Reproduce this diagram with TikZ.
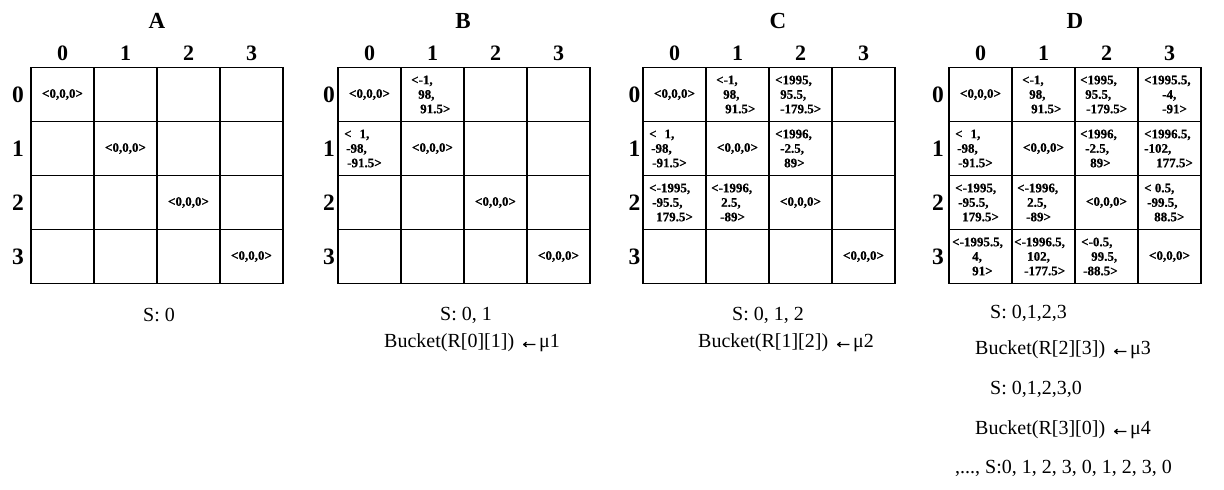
\documentclass[tikz,border=0pt]{standalone}
\usepackage{fontspec}
\setmainfont{Liberation Serif}
\newfontfamily\heavyfont{Liberation Serif Bold}[FakeBold=0.6]
\newfontfamily\arrowfont{Liberation Serif Bold}[FakeBold=2]
\tikzset{
  cellbox/.style={draw, line width=1.6pt, minimum width=63pt, minimum height=54pt, inner sep=0pt, outer sep=0pt},
  valtxt/.style={font=\heavyfont\fontsize{13}{14.5}\selectfont, inner sep=0pt, align=left},
  hdr/.style={font=\bfseries\fontsize{22}{24}\selectfont, inner sep=0pt},
  rowhdr/.style={font=\bfseries\fontsize{23.5}{25}\selectfont, inner sep=0pt},
  ttl/.style={font=\bfseries\fontsize{23}{25}\selectfont, inner sep=0pt},
  note/.style={font=\fontsize{20}{22}\selectfont, inner sep=0pt, anchor=west},
}
% assignment arrow used in the bucket lines
\newcommand\getsarrow{{\arrowfont ←}}
% 4x4 table of cells with row and column indices
% #1 name, #2 left x, #3 top y, #4 x of the row indices
\newcommand\tablegrid[4]{%
  \foreach \r in {0,...,3}{
    \foreach \c in {0,...,3}{
      \node[cellbox] (#1-\r-\c) at ({#2+63*\c+31.5},{#3+54*\r+27}) {};
    }
    \node[rowhdr] (#1-row\r) at (#4,{#3+54*\r+27}) {\r};
    \node[hdr] (#1-col\r) at ({#2+63*\r+31.5},{#3-14.5}) {\r};
  }
}
% three-line entry, each line indented from the cell's left side
\newcommand\cellval[7]{%
  \node[valtxt, anchor=west] (#1-v) at (#1.west)
    {\hspace*{#2pt}#3\\\hspace*{#4pt}#5\\\hspace*{#6pt}#7};
}
\newcommand\zeroval[1]{\node[valtxt] (#1-v) at (#1) {<0,0,0>};}
\begin{document}
\begin{tikzpicture}[x=1pt,y=-1pt]
\useasboundingbox (0,0) rectangle (1224,490);

% ---- tables ----
\tablegrid{A}{31}{67.5}{18}
\tablegrid{B}{338}{67.5}{329}
\tablegrid{C}{643}{67.5}{634.5}
\tablegrid{D}{949}{67.5}{938}

\node[ttl] (tA) at (157,21) {A};
\node[ttl] (tB) at (463,21) {B};
\node[ttl] (tC) at (778,21) {C};
\node[ttl] (tD) at (1075,21) {D};

% diagonal entries
\foreach \g in {A,B,C,D}{
  \foreach \i in {0,...,3}{ \zeroval{\g-\i-\i} }
}

% table B
\cellval{B-0-1}{10}{<-1,}{17}{98,}{19}{91.5>}
\cellval{B-1-0}{6}{<\hspace{8pt}1,}{8}{-98,}{9}{-91.5>}

% table C
\cellval{C-0-1}{10}{<-1,}{17}{98,}{19}{91.5>}
\cellval{C-0-2}{6}{<1995,}{11}{95.5,}{11}{-179.5>}
\cellval{C-1-0}{6}{<\hspace{8pt}1,}{8}{-98,}{9}{-91.5>}
\cellval{C-1-2}{6}{<1996,}{11}{-2.5,}{15}{89>}
\cellval{C-2-0}{6}{<-1995,}{9}{-95.5,}{13}{179.5>}
\cellval{C-2-1}{5}{<-1996,}{15}{2.5,}{14}{-89>}

% table D
\cellval{D-0-1}{10}{<-1,}{17}{98,}{19}{91.5>}
\cellval{D-0-2}{5}{<1995,}{10}{95.5,}{11}{-179.5>}
\cellval{D-0-3}{6}{<1995.5,}{24}{-4,}{24}{-91>}
\cellval{D-1-0}{6}{<\hspace{8pt}1,}{8}{-98,}{9}{-91.5>}
\cellval{D-1-2}{5}{<1996,}{10}{-2.5,}{15}{89>}
\cellval{D-1-3}{6}{<1996.5,}{6}{-102,}{18}{177.5>}
\cellval{D-2-0}{6}{<-1995,}{9}{-95.5,}{13}{179.5>}
\cellval{D-2-1}{5}{<-1996,}{15}{2.5,}{14}{-89>}
\cellval{D-2-3}{6}{< 0.5,}{9}{-99.5,}{16}{88.5>}
\cellval{D-3-0}{3}{<-1995.5,}{23}{4,}{23}{91>}
\cellval{D-3-1}{2}{<-1996.5,}{15}{102,}{12}{-177.5>}
\cellval{D-3-2}{6}{<-0.5,}{16}{99.5,}{8}{-88.5>}

% ---- sequences and buckets ----
\node[note] (sA) at (143,315) {S: 0};
\node[note] (sB) at (440,315) {S: 0, 1};
\node[note] (bB) at (384,343) {Bucket(R[0][1]) \getsarrow μ1};
\node[note] (sC) at (732,315) {S: 0, 1, 2};
\node[note] (bC) at (698,343) {Bucket(R[1][2]) \getsarrow μ2};
\node[note] (sD1) at (990,313) {S: 0,1,2,3};
\node[note] (bD1) at (975,350) {Bucket(R[2][3]) \getsarrow μ3};
\node[note] (sD2) at (990,389) {S: 0,1,2,3,0};
\node[note] (bD2) at (975,430) {Bucket(R[3][0]) \getsarrow μ4};
\node[note] (sD3) at (955,468) {,..., S:0, 1, 2, 3, 0, 1, 2, 3, 0};
\end{tikzpicture}
\end{document}
